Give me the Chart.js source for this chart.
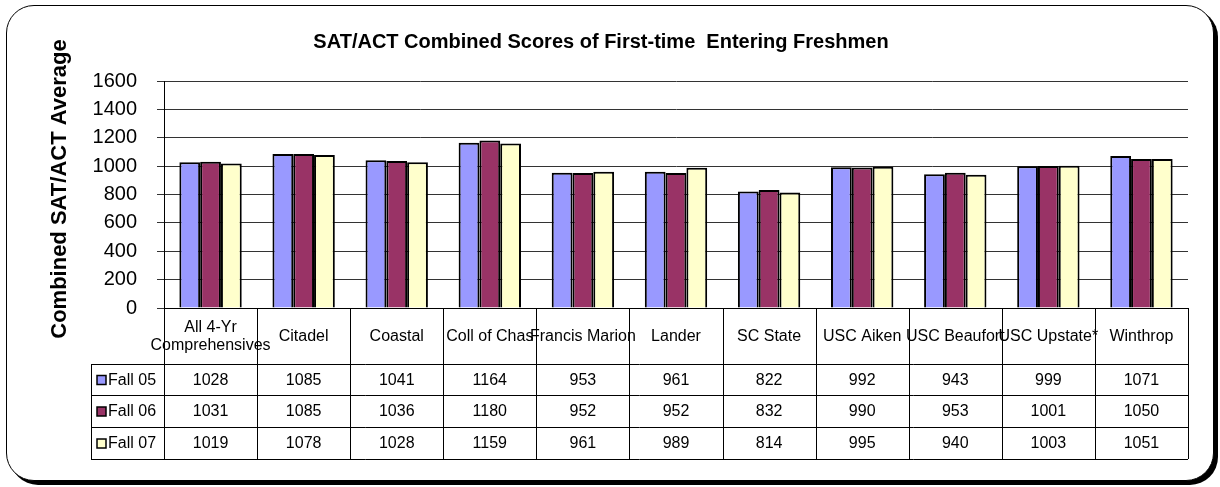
<!DOCTYPE html>
<html>
<head>
<meta charset="utf-8">
<script src="https://cdn.jsdelivr.net/npm/chart.js@4"></script>
<style>
  html, body { margin: 0; padding: 0; background: #fff; }
  #wrap { position: relative; width: 1220px; height: 487px; }
  #frame {
    position: absolute; left: 6px; top: 5px; width: 1206px; height: 474px;
    border: 1px solid #000; border-radius: 28px; box-shadow: 4px 4px 0 #000; background: #fff;
  }
  canvas { position: absolute; left: 0; top: 0; }
</style>
</head>
<body>
<div id="wrap">
  <div id="frame"></div>
  <canvas id="satChart" width="1220" height="487"></canvas>
</div>
<script>
const schools = ["All 4-Yr\nComprehensives", "Citadel", "Coastal", "Coll of Chas", "Francis Marion",
  "Lander", "SC State", "USC Aiken", "USC Beaufort", "USC Upstate*", "Winthrop"];
const fall05 = [1028, 1085, 1041, 1164, 953, 961, 822, 992, 943, 999, 1071];
const fall06 = [1031, 1085, 1036, 1180, 952, 952, 832, 990, 953, 1001, 1050];
const fall07 = [1019, 1078, 1028, 1159, 961, 989, 814, 995, 940, 1003, 1051];
const seriesNames = ["Fall 05", "Fall 06", "Fall 07"];
const seriesColors = ["#9999FF", "#993366", "#FFFFCC"];
const yTicks = [0, 200, 400, 600, 800, 1000, 1200, 1400, 1600];

const FONT = "'Liberation Sans', Arial, sans-serif";

// data table under the plot, like Excel's "show data table"
const dataTable = {
  id: "dataTable",
  afterDraw(chart) {
    const ctx = chart.ctx;
    const xs = chart.scales.x;
    const area = chart.chartArea;
    const n = schools.length;
    const w = (area.right - area.left) / n;
    const top = area.bottom;
    const rows = [top + 56, top + 87, top + 119, top + 151];
    const legLeft = 91;

    ctx.save();
    ctx.strokeStyle = "#000";
    ctx.lineWidth = 1;
    ctx.beginPath();
    ctx.moveTo(area.left, top + 0.5); ctx.lineTo(area.right, top + 0.5);
    rows.forEach(y => { ctx.moveTo(legLeft, y + 0.5); ctx.lineTo(area.right, y + 0.5); });
    ctx.moveTo(legLeft + 0.5, rows[0]); ctx.lineTo(legLeft + 0.5, rows[3]);
    for (let i = 0; i <= n; i++) {
      const x = Math.round(area.left + i * w) + 0.5;
      ctx.moveTo(x, top); ctx.lineTo(x, rows[3]);
    }
    ctx.stroke();

    ctx.fillStyle = "#000";
    ctx.font = "16px " + FONT;
    ctx.textAlign = "center";
    ctx.textBaseline = "middle";
    schools.forEach((s, i) => {
      const cx = xs.getPixelForValue(i);
      const lines = s.split("\n");
      const cy = (top + rows[0]) / 2 + 1;
      lines.forEach((ln, k) => {
        ctx.fillText(ln, cx, cy + (k - (lines.length - 1) / 2) * 18);
      });
    });

    const series = [fall05, fall06, fall07];
    series.forEach((vals, r) => {
      const cy = (rows[r] + rows[r + 1]) / 2 + 1;
      ctx.textAlign = "center";
      vals.forEach((v, i) => ctx.fillText(String(v), xs.getPixelForValue(i), cy));
      ctx.fillStyle = seriesColors[r];
      ctx.fillRect(97, cy - 5, 9, 9);
      ctx.lineWidth = 1.5;
      ctx.strokeRect(97, cy - 5, 9, 9);
      ctx.fillStyle = "#000";
      ctx.textAlign = "left";
      ctx.fillText(seriesNames[r], 108, cy);
    });

    // titles
    ctx.font = "bold 20px " + FONT;
    ctx.textAlign = "center";
    ctx.fillText("SAT/ACT Combined Scores of First-time  Entering Freshmen", 601, 42);
    ctx.translate(60, 189);
    ctx.rotate(-Math.PI / 2);
    ctx.font = "bold 22px " + FONT;
    ctx.fillText("Combined SAT/ACT Average", 0, 0);
    ctx.restore();
  }
};

new Chart(document.getElementById("satChart"), {
  type: "bar",
  data: {
    labels: schools,
    datasets: seriesNames.map((name, i) => ({
      label: name,
      data: [fall05, fall06, fall07][i],
      backgroundColor: seriesColors[i],
      borderColor: "#000",
      borderWidth: 2,
      categoryPercentage: 0.67,
      barPercentage: 1.0,
    })),
  },
  options: {
    responsive: false,
    animation: false,
    layout: { padding: { left: 30, top: 81, right: 32, bottom: 179 } },
    plugins: {
      legend: { display: false },
      title: { display: false },
      tooltip: { enabled: false },
    },
    scales: {
      x: { display: false },
      y: {
        min: 0,
        max: 1600,
        afterBuildTicks: (scale) => { scale.ticks = yTicks.map(v => ({ value: v })); },
        afterFit: (scale) => { scale.width = 134; },
        ticks: {
          color: "#000", padding: 20, font: { size: 20, family: FONT },
          callback: (v) => String(v),
        },
        grid: { color: "#333", lineWidth: 1, tickLength: 7 },
        border: { color: "#000", width: 1 },
      },
    },
  },
  plugins: [dataTable],
});
</script>
</body>
</html>
